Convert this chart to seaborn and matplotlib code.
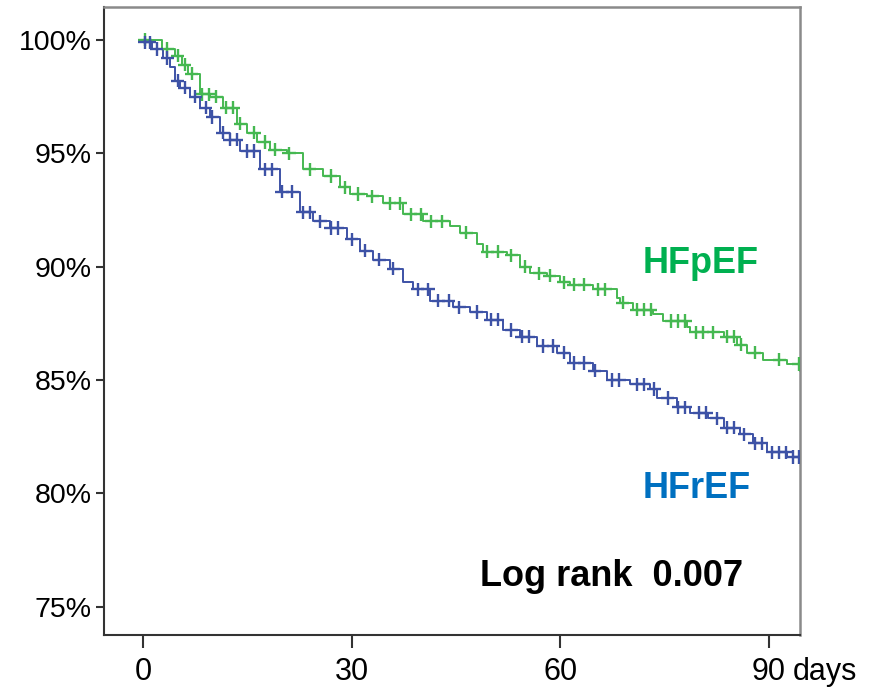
import numpy as np
import pandas as pd
import seaborn as sns
import matplotlib.pyplot as plt

# Kaplan-Meier steps (day, survival %)
hfpef_days = [0.0, 2.7, 4.6, 5.6, 6.5, 8.2, 9.6, 11.5, 13.5, 15.0, 16.4, 18.3, 20.7,
              23.0, 25.9, 28.3, 29.8, 32.2, 34.5, 37.4, 40.3, 44.2, 45.6, 48.1, 48.9,
              52.4, 54.2, 55.7, 58.1, 60.0, 61.4, 64.7, 68.2, 68.6, 70.5, 73.4, 74.8,
              78.3, 78.7, 81.6, 83.5, 85.5, 86.9, 89.2, 92.7, 94.5]
hfpef_surv = [100.0, 99.6, 99.3, 98.9, 98.5, 97.6, 97.5, 97.0, 96.3, 95.9, 95.5, 95.15, 95.0,
              94.3, 94.0, 93.5, 93.2, 93.1, 92.8, 92.3, 92.0, 91.8, 91.5, 91.0, 90.65,
              90.5, 90.0, 89.7, 89.6, 89.3, 89.2, 89.0, 88.6, 88.4, 88.1, 87.9, 87.6,
              87.35, 87.1, 87.1, 86.9, 86.55, 86.2, 85.9, 85.7, 85.4]

hfref_days = [0.0, 1.3, 2.9, 3.9, 4.6, 5.3, 6.8, 8.2, 9.6, 11.1, 12.5, 14.0, 16.8, 19.7,
              22.6, 24.5, 26.9, 29.4, 31.2, 33.1, 35.5, 37.4, 38.8, 41.3, 44.6, 47.1,
              49.5, 51.8, 54.2, 56.7, 59.6, 61.4, 64.7, 66.8, 70.1, 72.9, 74.0, 76.8,
              78.7, 81.2, 83.5, 85.9, 87.8, 89.8, 92.7, 94.5]
hfref_surv = [99.9, 99.6, 99.2, 98.8, 98.2, 97.9, 97.5, 97.0, 96.6, 95.9, 95.6, 95.1, 94.3, 93.3,
              92.4, 92.0, 91.7, 91.2, 90.7, 90.3, 89.9, 89.3, 89.0, 88.5, 88.2, 88.0,
              87.65, 87.2, 86.9, 86.5, 86.2, 85.75, 85.4, 85.0, 84.8, 84.6, 84.2, 83.8,
              83.55, 83.3, 82.9, 82.6, 82.2, 81.8, 81.6, 81.5]

# censored observations (days)
hfpef_censor = [0.3, 3.5, 5.0, 6.0, 7.0, 8.5, 9.5, 10.5, 12.0, 13.0, 14.0, 16.0, 17.5, 19.0,
                21.0, 24.0, 27.0, 29.0, 31.0, 33.0, 35.5, 37.0, 38.5, 40.0, 41.5, 43.0,
                46.5, 49.5, 51.0, 53.0, 55.0, 57.0, 58.5, 60.5, 62.0, 63.5, 65.5, 66.5,
                69.0, 71.0, 72.0, 73.0, 76.0, 77.0, 78.0, 79.5, 80.5, 82.0, 84.0, 85.0,
                86.0, 88.0, 91.5, 94.3]
hfref_censor = [0.3, 1.0, 2.0, 3.5, 5.0, 6.0, 7.5, 9.0, 10.0, 11.5, 12.5, 13.5, 15.0, 16.0,
                17.5, 18.5, 20.0, 21.5, 23.0, 24.0, 25.5, 27.0, 28.0, 30.0, 32.0, 34.0,
                36.0, 39.5, 41.0, 42.5, 44.0, 45.5, 48.0, 50.0, 51.0, 53.0, 54.5, 55.5,
                57.5, 59.0, 60.5, 62.0, 63.5, 65.0, 67.5, 68.5, 71.0, 72.0, 73.5, 75.5,
                77.0, 78.0, 80.0, 81.0, 82.5, 84.0, 85.0, 86.5, 88.0, 89.0, 90.5, 91.5,
                92.5, 93.5, 94.3]

y_ticks = [75, 80, 85, 90, 95, 100]
x_ticks = [0, 30, 60, 90]

GREEN = "#45B851"
BLUE = "#3D52A6"


def censor_points(days, surv, censor):
    days = np.array(days)
    surv = np.array(surv)
    idx = np.searchsorted(days, censor, side="right") - 1
    return surv[np.clip(idx, 0, len(surv) - 1)]


curves = pd.concat([
    pd.DataFrame({"day": hfpef_days, "surv": hfpef_surv, "group": "HFpEF"}),
    pd.DataFrame({"day": hfref_days, "surv": hfref_surv, "group": "HFrEF"}),
])
marks = pd.concat([
    pd.DataFrame({"day": hfpef_censor,
                  "surv": censor_points(hfpef_days, hfpef_surv, hfpef_censor), "group": "HFpEF"}),
    pd.DataFrame({"day": hfref_censor,
                  "surv": censor_points(hfref_days, hfref_surv, hfref_censor), "group": "HFrEF"}),
])

sns.set_style("ticks")
plt.rcParams["font.family"] = ["Liberation Sans", "DejaVu Sans"]

fig = plt.figure(figsize=(8.69, 6.89), dpi=100)
ax = fig.add_axes([0.1197, 0.0784, 0.8009, 0.9114])

palette = {"HFpEF": GREEN, "HFrEF": BLUE}
sns.lineplot(data=curves, x="day", y="surv", hue="group", palette=palette,
             drawstyle="steps-post", estimator=None, linewidth=1.4, legend=False, ax=ax)
sns.scatterplot(data=marks, x="day", y="surv", hue="group", palette=palette,
                marker="+", s=90, linewidth=1.7, legend=False, ax=ax, zorder=3)

ax.set_xlim(-5.6, 94.5)
ax.set_ylim(73.75, 101.45)
ax.set_yticks(y_ticks)
ax.set_yticklabels([f"{v}%" for v in y_ticks], fontsize=20.5)
ax.set_xticks(x_ticks)
ax.set_xticklabels([str(v) for v in x_ticks], fontsize=22)
ax.set_xlabel("")
ax.set_ylabel("")

ax.tick_params(axis="y", length=6, width=1.5, pad=3, color="#333333", labelcolor="black")
ax.tick_params(axis="x", length=9, width=1.5, pad=7, color="#333333", labelcolor="black")

for side in ["left", "bottom"]:
    ax.spines[side].set_color("#333333")
    ax.spines[side].set_linewidth(1.5)
for side in ["top", "right"]:
    ax.spines[side].set_visible(True)
    ax.spines[side].set_color("#8a8a8a")
    ax.spines[side].set_linewidth(1.8)

# "days" after the last tick label
ax.annotate("days", xy=(90, 0), xycoords=("data", "axes fraction"),
            xytext=(17, -16), textcoords="offset points",
            ha="left", va="top", fontsize=22, color="black")

ax.text(71.8, 89.73, "HFpEF", color="#00B050", fontsize=26, fontweight="bold",
        ha="left", va="baseline")
ax.text(71.8, 79.81, "HFrEF", color="#0070C0", fontsize=26, fontweight="bold",
        ha="left", va="baseline")
ax.text(48.5, 75.9, "Log rank  0.007", color="black", fontsize=26, fontweight="bold",
        ha="left", va="baseline")

fig.savefig("out.png", dpi=100)
